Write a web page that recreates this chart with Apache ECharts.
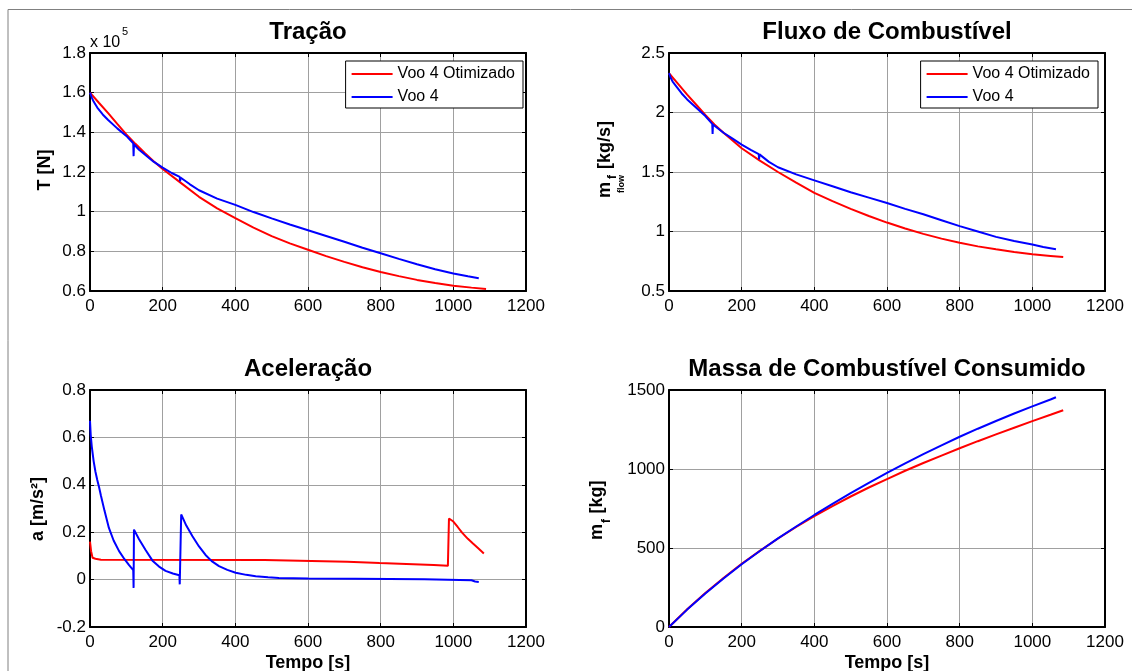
<!DOCTYPE html>
<html>
<head>
<meta charset="utf-8">
<script src="https://cdn.jsdelivr.net/npm/echarts@6/dist/echarts.min.js"></script>
<style>html,body{margin:0;padding:0;background:#fff;}#c{width:1132px;height:671px;}</style>
</head>
<body>
<div id="c"></div>
<script>
// ---------- DATA ----------
const seriesNames = ['Voo 4 Otimizado', 'Voo 4'];
const titles = ['Tração', 'Fluxo de Combustível', 'Aceleração', 'Massa de Combustível Consumido'];
const xTickRange = [0, 1200, 200];
const thrustTickRange = [0.6, 1.8, 0.2];   // x 10^5 N
const flowTickRange = [0.5, 2.5, 0.5];
const accTickRange = [-0.2, 0.8, 0.2];
const massTickRange = [0, 1500, 500];

// Tração (x 10^5 N)
const tThrustRed = [0,25,50,75,100,125,150,175,200,250,300,350,400,450,500,550,600,650,700,750,800,850,900,950,1000,1050,1090];
const thrustRed  = [1.600,1.548,1.497,1.443,1.390,1.342,1.297,1.254,1.215,1.145,1.075,1.017,0.968,0.920,0.877,0.840,0.808,0.776,0.747,0.720,0.696,0.675,0.656,0.640,0.627,0.617,0.610];
const tThrustBlue = [0,5,10,20,35,50,75,100,119,120,121,135,150,175,200,225,247,248,249,275,300,350,400,450,500,550,600,650,700,750,800,850,900,950,1000,1040,1070];
const thrustBlue  = [1.600,1.575,1.555,1.525,1.490,1.462,1.420,1.382,1.345,1.280,1.340,1.312,1.290,1.252,1.222,1.195,1.175,1.152,1.172,1.138,1.108,1.066,1.034,0.998,0.966,0.935,0.906,0.877,0.848,0.818,0.790,0.762,0.735,0.710,0.688,0.674,0.664];

// Fluxo de Combustível (kg/s)
const tFlowRed = [0,25,50,75,100,125,150,175,200,250,300,350,400,450,500,550,600,650,700,750,800,850,900,950,1000,1050,1085];
const flowRed  = [2.33,2.24,2.15,2.065,1.98,1.90,1.83,1.765,1.70,1.595,1.50,1.41,1.325,1.255,1.19,1.13,1.075,1.025,0.98,0.94,0.905,0.875,0.85,0.827,0.808,0.795,0.785];
const tFlowBlue = [0,5,10,20,35,50,75,100,119,120,121,135,150,175,200,225,247,248,249,275,300,350,400,450,500,550,600,650,700,750,800,850,900,950,1000,1030,1065];
const flowBlue  = [2.33,2.29,2.26,2.22,2.16,2.11,2.04,1.97,1.905,1.82,1.90,1.865,1.83,1.78,1.73,1.685,1.65,1.605,1.648,1.585,1.54,1.48,1.43,1.38,1.33,1.285,1.24,1.19,1.145,1.095,1.045,1.0,0.955,0.92,0.89,0.87,0.85];

// Aceleração (m/s^2)
const tAccRed = [0,3,7,15,30,480,482,610,612,708,710,797,799,871,873,946,948,985,988,1000,1012,1024,1040,1054,1070,1084];
const accRed  = [0.160,0.120,0.092,0.088,0.084,0.083,0.080,0.079,0.076,0.075,0.071,0.070,0.067,0.066,0.063,0.062,0.058,0.058,0.258,0.245,0.222,0.198,0.172,0.152,0.130,0.110];
const tAccBlue = [0,2,5,10,15,20,25,30,40,52,65,80,95,107,119,120,121,135,153,172,190,208,228,246,247,251,265,282,300,318,335,355,378,401,430,456,490,520,600,730,732,920,922,1050,1060,1070];
const accBlue  = [0.670,0.610,0.560,0.500,0.455,0.420,0.390,0.355,0.290,0.218,0.165,0.120,0.086,0.062,0.040,-0.035,0.211,0.170,0.125,0.080,0.055,0.037,0.026,0.018,-0.020,0.275,0.228,0.183,0.140,0.104,0.078,0.057,0.041,0.029,0.020,0.014,0.010,0.007,0.005,0.004,0.002,0.001,-0.002,-0.003,-0.008,-0.010];

// Massa de Combustível Consumido (kg)
const tMassRed = [0,50,100,150,200,250,300,350,400,450,500,550,600,650,700,750,800,850,900,950,1000,1050,1085];
const massRed  = [0,112,215,310,400,482,560,633,702,765,826,883,936,989,1038,1085,1131,1176,1219,1261,1303,1343,1372];
const tMassBlue = [0,50,100,150,200,250,300,350,400,450,500,550,600,650,700,750,800,850,900,950,1000,1050,1065];
const massBlue  = [0,110,212,307,397,481,561,636,709,779,847,912,975,1036,1094,1150,1204,1255,1304,1351,1396,1440,1454];

// ---------- CHART ----------
const FONT = '"Liberation Sans", Arial, Helvetica, sans-serif';
const RED = '#ff0000', BLUE = '#0000ff';
const pairs = (t, v) => t.map((x, i) => [x, v[i]]);
const plain = v => String(Math.round(v * 1000) / 1000);

const grids = [
  {left: 90,  top: 53,  width: 436, height: 238},
  {left: 669, top: 53,  width: 436, height: 238},
  {left: 90,  top: 390, width: 436, height: 237},
  {left: 669, top: 390, width: 436, height: 237}
];
const yRanges = [thrustTickRange, flowTickRange, accTickRange, massTickRange];

const xAxes = [], yAxes = [];
grids.forEach((g, i) => {
  const common = {
    type: 'value', gridIndex: i,
    axisLine: {show: true, onZero: false, lineStyle: {color: '#000', width: 2}},
    axisTick: {show: true, inside: true, length: 4, lineStyle: {color: '#000', width: 1}}
  };
  xAxes.push(Object.assign({}, common, {
    position: 'bottom', min: xTickRange[0], max: xTickRange[1], interval: xTickRange[2],
    axisLabel: {color: '#000', fontSize: 17, fontFamily: FONT, margin: 7, formatter: plain},
    splitLine: {show: true, lineStyle: {color: '#a0a0a0', width: 1}}
  }));
  xAxes.push(Object.assign({}, common, {
    position: 'top', min: xTickRange[0], max: xTickRange[1], interval: xTickRange[2],
    axisLabel: {show: false}, splitLine: {show: false}
  }));
  const r = yRanges[i];
  yAxes.push(Object.assign({}, common, {
    position: 'left', min: r[0], max: r[1], interval: r[2],
    axisLabel: {color: '#000', fontSize: 17, fontFamily: FONT, margin: 4, formatter: plain},
    splitLine: {show: true, lineStyle: {color: '#a0a0a0', width: 1}}
  }));
  yAxes.push(Object.assign({}, common, {
    position: 'right', min: r[0], max: r[1], interval: r[2],
    axisLabel: {show: false}, splitLine: {show: false}
  }));
});

function line(name, color, data, gi) {
  return {
    type: 'line', name: name, xAxisIndex: gi * 2, yAxisIndex: gi * 2,
    data: data, symbol: 'none', showSymbol: false, silent: true, smooth: false,
    lineStyle: {color: color, width: 2}, itemStyle: {color: color},
    animation: false, z: 3
  };
}

const series = [
  line(seriesNames[0], RED,  pairs(tThrustRed, thrustRed), 0),
  line(seriesNames[1], BLUE, pairs(tThrustBlue, thrustBlue), 0),
  line(seriesNames[0], RED,  pairs(tFlowRed, flowRed), 1),
  line(seriesNames[1], BLUE, pairs(tFlowBlue, flowBlue), 1),
  line(seriesNames[0], RED,  pairs(tAccRed, accRed), 2),
  line(seriesNames[1], BLUE, pairs(tAccBlue, accBlue), 2),
  line(seriesNames[0], RED,  pairs(tMassRed, massRed), 3),
  line(seriesNames[1], BLUE, pairs(tMassBlue, massBlue), 3)
];

function legend(right) {
  return {
    data: seriesNames, orient: 'vertical', right: right, top: 61,
    icon: 'rect', itemWidth: 41, itemHeight: 2, itemGap: 7,
    padding: [5, 8, 3, 6], borderColor: '#000', borderWidth: 1, backgroundColor: '#fff',
    textStyle: {color: '#000', fontSize: 16, fontFamily: FONT},
    selectedMode: false
  };
}

function txt(text, x, y, size, bold, rot, align) {
  const f = (bold ? 'bold ' : '') + size + 'px ' + FONT;
  const a = align || 'center';
  return {
    type: 'text', x: x, y: y, rotation: rot || 0, silent: true, z: 10,
    style: {text: text, font: f, fill: '#000', align: a, verticalAlign: 'middle',
            textAlign: a, textVerticalAlign: 'middle'}
  };
}
const R = Math.PI / 2;
const graphic = [
  {type: 'rect', silent: true, z: 0, shape: {x: 8, y: 9.5, width: 1200, height: 800},
   style: {fill: 'none', stroke: '#808080', lineWidth: 1}},
  txt(titles[0], 308, 32, 24, true),
  txt(titles[1], 887, 32, 24, true),
  txt(titles[2], 308, 369, 24, true),
  txt(titles[3], 887, 369, 24, true),
  txt('x 10', 90, 43, 16, false, 0, 'left'),
  txt('5', 122, 32, 11, false, 0, 'left'),
  txt('T [N]', 45, 170, 18, true, R),
  txt('[kg/s]', 605, 145, 18, true, R),
  txt('m', 605, 190, 18, true, R),
  txt('f', 613, 177, 12, true, R),
  txt('flow', 622, 184, 9, true, R),
  txt('a [m/s²]', 38, 509, 18, true, R),
  txt('[kg]', 597, 497, 18, true, R),
  txt('m', 597, 532, 18, true, R),
  txt('f', 607, 521, 12, true, R),
  txt('Tempo [s]', 308, 663, 18, true),
  txt('Tempo [s]', 887, 663, 18, true)
];

const chart = echarts.init(document.getElementById('c'), null, {renderer: 'canvas'});
chart.setOption({
  backgroundColor: '#fff',
  animation: false,
  grid: grids.map(g => Object.assign({show: false, containLabel: false}, g)),
  xAxis: xAxes,
  yAxis: yAxes,
  legend: [legend(1132 - 523), legend(1132 - 1098)],
  series: series,
  graphic: graphic
});
</script>
</body>
</html>
